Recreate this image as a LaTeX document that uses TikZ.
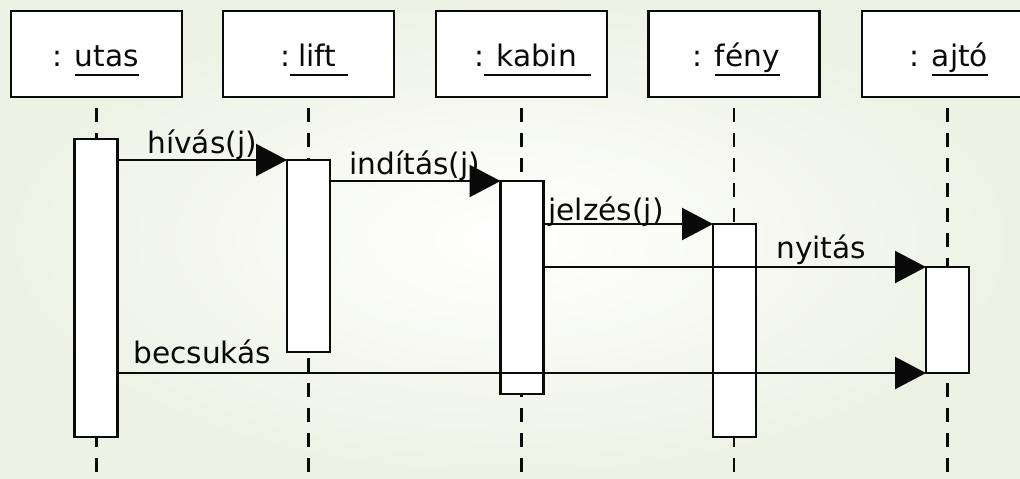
\documentclass[tikz,border=0pt]{standalone}
\usepackage{fontspec}
\setmainfont{DejaVu Sans}
\usetikzlibrary{arrows.meta}
\definecolor{bgouter}{RGB}{238,242,228}
\definecolor{ink}{RGB}{10,10,10}
\newcommand\myul[1]{\setbox0=\hbox{#1}\rlap{\rule[-5pt]{\wd0}{1pt}}\box0}
\begin{document}
\begin{tikzpicture}[x=0.5pt,y=-0.5pt,
  every node/.style={font=\fontsize{14.8pt}{17pt}\selectfont,text=ink},
  hdr/.style={draw=ink,line width=1.1pt,fill=white,inner sep=0pt,outer sep=0pt,minimum width=85.5pt,minimum height=43pt},
  act/.style={draw=ink,line width=1.1pt,fill=white,inner sep=0pt,outer sep=0pt,minimum width=21.5pt},
  life/.style={draw=ink,line width=1.1pt,dash pattern=on 7pt off 5.5pt},
  msg/.style={draw=ink,line width=1.1pt,-{Triangle[length=15.5pt,width=16pt]}},
  lbl/.style={anchor=base west,inner sep=0pt}
]
\clip (0,0) rectangle (1020,478);
\shade[inner color=white,outer color=bgouter] (0,0) rectangle (1020,478);
\coordinate (bot) at (0,480);
% header boxes
\node[hdr] (hUtas)  at (96.5,54) {};
\node[hdr] (hLift)  at (308.5,54) {};
\node[hdr] (hKabin) at (521.5,54) {};
\node[hdr] (hFeny)  at (734,54) {};
\node[hdr] (hAjto)  at (947.5,54) {};
% lifelines
\foreach \h in {hUtas,hLift,hKabin,hFeny,hAjto}{
  \draw[life] ([yshift=-5.5pt]\h.south) -- (\h.south |- bot);
}
% header texts
\node[lbl] (tUtas)  at (52,66)  {: \myul{utas}};
\node[lbl] (tLift)  at (280,66) {:\myul{\hspace{4pt}lift\hspace{6pt}}};
\node[lbl] (tKabin) at (474,66) {:\myul{\hspace{6pt}kabin\hspace{7pt}}};
\node[lbl] (tFeny)  at (692,66) {: \myul{fény}};
\node[lbl] (tAjto)  at (909,66) {: \myul{ajtó}};
% activation boxes
\node[act,minimum height=149pt]  (aUtas)  at (96,288) {};
\node[act,minimum height=96pt]   (aLift)  at (308.5,256) {};
\node[act,minimum height=106.5pt] (aKabin) at (522,287.5) {};
\node[act,minimum height=106.5pt] (aFeny)  at (734.5,330.5) {};
\node[act,minimum height=53pt]   (aAjto)  at (947.5,320) {};
% messages
\draw[msg] (aUtas.east |- aLift.north) -- (aLift.north west);
\draw[msg] (aLift.east |- aKabin.north) -- (aKabin.north west);
\draw[msg] (aKabin.east |- aFeny.north) -- (aFeny.north west);
\draw[msg] (aKabin.east |- aAjto.north) -- (aAjto.north west);
\draw[msg] (aUtas.east |- aAjto.south) -- (aAjto.south west);
% labels
\node[lbl] (lHivas)   at (147,153) {hívás(j)};
\node[lbl] (lInditas) at (349,174) {indítás(j)};
\node[lbl] (lJelzes)  at (548,220) {jelzés(j)};
\node[lbl] (lNyitas)  at (776,258) {nyitás};
\node[lbl] (lBecsukas) at (133,363) {becsukás};
\end{tikzpicture}
\end{document}
